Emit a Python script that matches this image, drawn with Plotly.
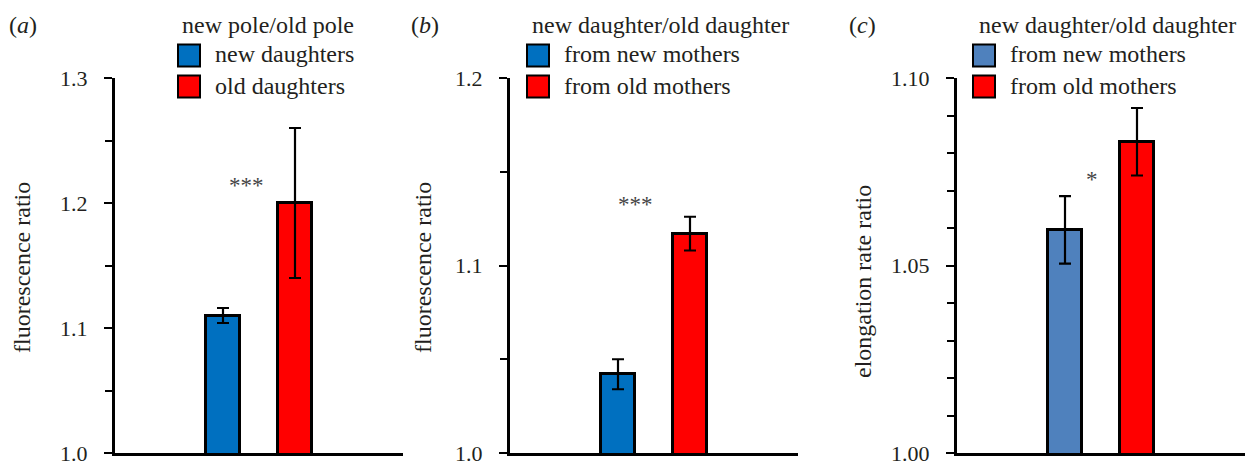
import plotly.graph_objects as go

W, H = 1247, 466

# ---- data ----
positions = [0, 1]
a_values = [1.110, 1.200]
a_errors = [0.006, 0.060]
b_values = [1.042, 1.117]
b_errors = [0.008, 0.009]
c_values = [1.0595, 1.083]
c_errors = [0.009, 0.009]

a_legend_title = "new pole/old pole"
a_names = ["new daughters", "old daughters"]
bc_legend_title = "new daughter/old daughter"
bc_names = ["from new mothers", "from old mothers"]
panel_labels = ["(<i>a</i>)", "(<i>b</i>)", "(<i>c</i>)"]
y_titles = ["fluorescence ratio", "fluorescence ratio", "elongation rate ratio"]
stars = ["***", "***", "*"]
star_pos = [(0.32, 1.2164), (0.24, 1.134), (0.37, 1.0737)]

BLUE = "#0070C0"
BLUE_C = "#4F81BD"
RED = "#FF0000"
FONT = "Liberation Serif"
TXT = "#231F20"

fig = go.Figure()

panels = [
    dict(vals=a_values, errs=a_errors, colors=[BLUE, RED], yr=[1.0, 1.3], dt=0.1, mdt=0.05, fmt=".1f",
         xpx=(115, 403), names=a_names, ltitle=a_legend_title),
    dict(vals=b_values, errs=b_errors, colors=[BLUE, RED], yr=[1.0, 1.2], dt=0.1, mdt=0.05, fmt=".1f",
         xpx=(510, 798), names=bc_names, ltitle=bc_legend_title),
    dict(vals=c_values, errs=c_errors, colors=[BLUE_C, RED], yr=[1.0, 1.10], dt=0.05, mdt=0.01, fmt=".2f",
         xpx=(957, 1245), names=bc_names, ltitle=bc_legend_title),
]

ytop_px, ybot_px = 78, 453
ydom = [1 - ybot_px / H, 1 - ytop_px / H]

annotations = []
shapes = []
legend_sq_x = [178, 527, 973]
legend_title_cx = [268, 660, 1107]
panel_label_x = [23, 425, 862]
ytitle_x = [22, 423, 863]
ytitle_y = [268, 268, 282]

for i, p in enumerate(panels):
    n = "" if i == 0 else str(i + 1)
    fig.add_trace(go.Bar(
        x=positions, y=p["vals"], width=0.47,
        marker=dict(color=p["colors"], line=dict(color="black", width=3)),
        error_y=dict(type="data", array=p["errs"], color="black", thickness=2.2, width=6),
        xaxis="x" + n, yaxis="y" + n, showlegend=False,
    ))
    x0, x1 = p["xpx"]
    fig.update_layout(**{
        "xaxis" + n: dict(domain=[x0 / W, x1 / W], range=[-1.5, 2.5], showline=True, linecolor="black",
                          linewidth=3, showticklabels=False, ticks="", showgrid=False, zeroline=False,
                          anchor="y" + n, fixedrange=True, automargin=False),
        "yaxis" + n: dict(domain=ydom, range=p["yr"], showline=True, linecolor="black", linewidth=3,
                          ticks="outside", ticklen=8, tickwidth=2, tickcolor="black", dtick=p["dt"],
                          tick0=1.0, tickformat=p["fmt"], showgrid=False, zeroline=False,
                          anchor="x" + n, ticklabelstandoff=12, ticklabeloverflow="allow",
                          automargin=False,
                          tickfont=dict(family=FONT, size=22, color=TXT),
                          minor=dict(dtick=p["mdt"], tick0=1.0, ticks="outside", ticklen=7, tickwidth=2,
                                     tickcolor="black", showgrid=False)),
    })
    # star annotation
    sx, sy = star_pos[i]
    annotations.append(dict(x=sx, y=sy, xref="x" + n, yref="y" + n, text=stars[i], showarrow=False,
                            font=dict(family=FONT, size=23, color="#444"), yanchor="middle",
                            xanchor="center", yshift=-3))
    # panel label
    annotations.append(dict(x=panel_label_x[i] / W, y=1 - 25 / H, xref="paper", yref="paper",
                            text=panel_labels[i], showarrow=False, xanchor="center", yanchor="middle",
                            font=dict(family=FONT, size=24, color=TXT)))
    # y title
    annotations.append(dict(x=ytitle_x[i] / W, y=1 - ytitle_y[i] / H, xref="paper", yref="paper",
                            text=y_titles[i], showarrow=False, textangle=-90, xanchor="center",
                            yanchor="middle", font=dict(family=FONT, size=24, color=TXT)))
    # legend title
    annotations.append(dict(x=legend_title_cx[i] / W, y=1 - 25 / H, xref="paper", yref="paper",
                            text=p["ltitle"], showarrow=False, xanchor="center", yanchor="middle",
                            font=dict(family=FONT, size=24, color=TXT)))
    # legend entries
    for k, (nm, col) in enumerate(zip(p["names"], p["colors"])):
        cy = 55.5 + k * 31
        sx0 = legend_sq_x[i]
        shapes.append(dict(type="rect", xref="paper", yref="paper",
                           x0=sx0 / W, x1=(sx0 + 22) / W, y0=1 - (cy - 11) / H, y1=1 - (cy + 11) / H,
                           fillcolor=col, line=dict(color="black", width=2)))
        annotations.append(dict(x=(sx0 + 35) / W, y=1 - (cy - 1) / H, xref="paper", yref="paper", text=nm,
                                showarrow=False, xanchor="left", yanchor="middle",
                                font=dict(family=FONT, size=24, color=TXT)))

fig.update_layout(width=W, height=H, margin=dict(l=0, r=0, t=0, b=0, autoexpand=False),
                  plot_bgcolor="white", paper_bgcolor="white", annotations=annotations, shapes=shapes,
                  showlegend=False, bargap=0)

fig.write_html("out.html")
